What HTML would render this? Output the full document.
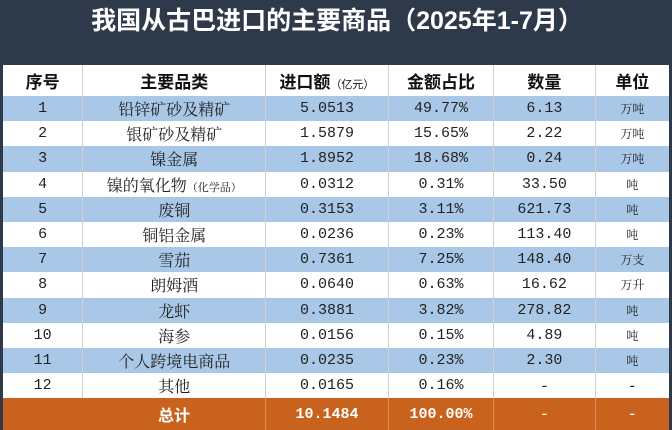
<!DOCTYPE html>
<html><head><meta charset="utf-8"><style>
*{margin:0;padding:0;box-sizing:border-box}
body{width:672px;height:430px;overflow:hidden;background:#fff;font-family:"Liberation Serif","Noto Serif CJK SC",serif;}
.title{position:absolute;left:0;top:0;width:672px;height:65px;background:#2e3a4a;color:#fff;font-family:"Liberation Sans","Noto Sans CJK SC",sans-serif;font-weight:bold;font-size:25px;text-align:center;line-height:42px;padding-left:2px}
table{position:absolute;left:0;top:65px;width:672px;border-collapse:collapse;table-layout:fixed;border-left:3px solid #2e3a4a;border-right:3px solid #2e3a4a}
td{text-align:center;border-left:1px solid #d0d0d0;height:25.2px;font-size:16px;color:#222;padding:0;white-space:nowrap}
td.n{font-family:"Liberation Mono","Noto Serif CJK SC",monospace;font-size:15px}
tr td:first-child{border-left:none}
tr.h td{height:31px;font-family:"Liberation Sans","Noto Sans CJK SC",sans-serif;font-weight:bold;font-size:17px;color:#111}
tr.b td{background:#a9c8e8}
tr.t td{background:#c8621c;color:#fff;font-weight:bold;height:32px;border-left:1px solid #d9895a}
.s{font-size:11px;font-weight:normal}
.u{font-size:12px}
</style></head><body>
<div class="title">我国从古巴进口的主要商品（2025年1-7月）</div>
<table>
<colgroup><col style="width:81px"><col style="width:182px"><col style="width:122px"><col style="width:105px"><col style="width:101px"><col style="width:75px"></colgroup>
<tr class="h"><td>序号</td><td>主要品类</td><td>进口额<span class="s">（亿元）</span></td><td>金额占比</td><td>数量</td><td>单位</td></tr>
<tr class="b"><td class="n">1</td><td>铅锌矿砂及精矿</td><td class="n">5.0513</td><td class="n">49.77%</td><td class="n">6.13</td><td class="u">万吨</td></tr>
<tr><td class="n">2</td><td>银矿砂及精矿</td><td class="n">1.5879</td><td class="n">15.65%</td><td class="n">2.22</td><td class="u">万吨</td></tr>
<tr class="b"><td class="n">3</td><td>镍金属</td><td class="n">1.8952</td><td class="n">18.68%</td><td class="n">0.24</td><td class="u">万吨</td></tr>
<tr><td class="n">4</td><td>镍的氧化物<span class="s">（化学品）</span></td><td class="n">0.0312</td><td class="n">0.31%</td><td class="n">33.50</td><td class="u">吨</td></tr>
<tr class="b"><td class="n">5</td><td>废铜</td><td class="n">0.3153</td><td class="n">3.11%</td><td class="n">621.73</td><td class="u">吨</td></tr>
<tr><td class="n">6</td><td>铜铝金属</td><td class="n">0.0236</td><td class="n">0.23%</td><td class="n">113.40</td><td class="u">吨</td></tr>
<tr class="b"><td class="n">7</td><td>雪茄</td><td class="n">0.7361</td><td class="n">7.25%</td><td class="n">148.40</td><td class="u">万支</td></tr>
<tr><td class="n">8</td><td>朗姆酒</td><td class="n">0.0640</td><td class="n">0.63%</td><td class="n">16.62</td><td class="u">万升</td></tr>
<tr class="b"><td class="n">9</td><td>龙虾</td><td class="n">0.3881</td><td class="n">3.82%</td><td class="n">278.82</td><td class="u">吨</td></tr>
<tr><td class="n">10</td><td>海参</td><td class="n">0.0156</td><td class="n">0.15%</td><td class="n">4.89</td><td class="u">吨</td></tr>
<tr class="b"><td class="n">11</td><td>个人跨境电商品</td><td class="n">0.0235</td><td class="n">0.23%</td><td class="n">2.30</td><td class="u">吨</td></tr>
<tr><td class="n">12</td><td>其他</td><td class="n">0.0165</td><td class="n">0.16%</td><td>-</td><td>-</td></tr>
<tr class="t"><td></td><td style="border-left:none;font-family:'Liberation Sans','Noto Sans CJK SC',sans-serif">总计</td><td class="n">10.1484</td><td class="n">100.00%</td><td>-</td><td>-</td></tr>
</table>
</body></html>
